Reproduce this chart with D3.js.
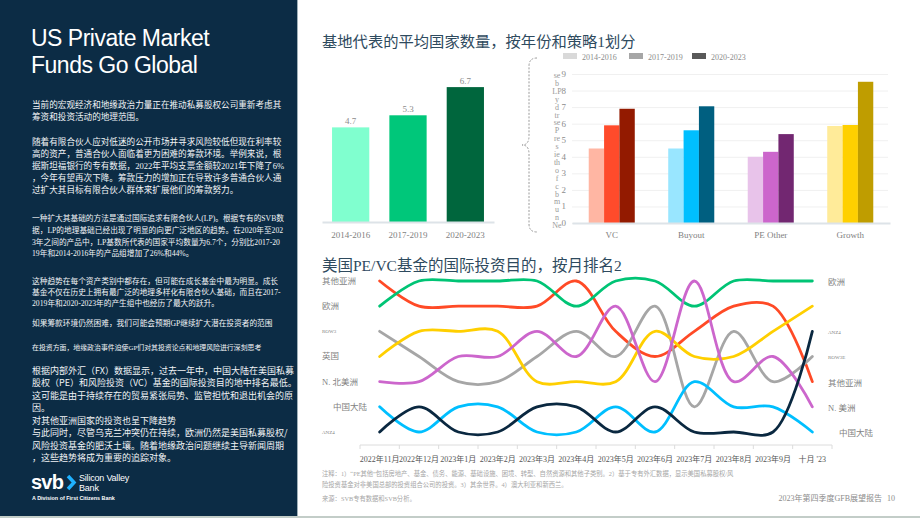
<!DOCTYPE html>
<html lang="zh">
<head>
<meta charset="utf-8">
<title>US Private Market Funds Go Global</title>
<script src="https://cdn.jsdelivr.net/npm/d3@7/dist/d3.min.js"></script>
<style>
    body { margin: 0; background: #fff; }
    svg text { font-family: "Liberation Serif", "Noto Sans CJK SC", serif; }
    .cjk { font-family: "Noto Sans CJK SC", sans-serif !important; }
    .mixed { font-family: "Liberation Serif", "Noto Sans CJK SC", serif; }
    .sans { font-family: "Liberation Sans", Arial, sans-serif !important; }
</style>
</head>
<body>
<script>
// ---- data ----
var periods = ["2014-2016", "2017-2019", "2020-2023"];
var avgCountries = [4.7, 5.3, 6.7];
var periodGreens = ["#80ffcf", "#00c77a", "#00663d"];

var strategies = ["VC", "Buyout", "PE Other", "Growth"];
var vcValues = [4.5, 5.9, 6.9];
var buyoutValues = [4.5, 5.6, 7.05];
var peOtherValues = [4.0, 4.3, 5.37];
var growthValues = [5.86, 5.92, 8.53];
var strategyColors = [
    ["#ffb6a3", "#ff4b2b", "#931a00"],
    ["#99e6ff", "#00bfff", "#005f80"],
    ["#e8c3ea", "#cc66cc", "#722771"],
    ["#ffeb99", "#ffd000", "#bf9d00"]
];
var legendGrays = ["#d9d9d9", "#a6a6a6", "#595959"];
var yTicks = [0, 1, 2, 3, 4, 5, 6, 7, 8, 9];

var months = ["2022年11月", "2022年12月", "2023年1月", "2023年2月", "2023年3月", "2023年4月",
    "2023年5月", "2023年6月", "2023年7月", "2023年8月", "2023年9月", "十月 '23"];
var regions = ["其他亚洲", "欧洲", "ROW3", "英国", "N. 北美洲", "中国大陆", "ANZ4"];
var rightLabels = ["其他亚洲", "欧洲", "ROW3E", "", "N.  美洲", "中国大陆", "ANZ4"];
var otherAsiaRank = [1, 2, 2, 2, 2, 1, 3, 4, 3, 2, 2, 5];
var europeRank    = [2, 1, 1, 1, 1, 2, 1, 1, 2, 1, 1, 1];
var row3Rank      = [3, 4, 5, 5, 4, 3, 4, 2, 6, 3, 5, 4];
var ukRank        = [4, 3, 3, 3, 5, 5, 5, 3, 4, 4, 3, 2];
var northAmRank   = [5, 5, 4, 4, 3, 4, 2, 5, 1, 5, 4, 6];
var chinaRank     = [6, 7, 6, 6, 7, 7, 6, 7, 5, 6, 6, 7];
var anzRank       = [7, 6, 7, 7, 6, 6, 7, 6, 7, 7, 7, 3];
var regionColors = ["#ff4a26", "#00c475", "#a6a6a6", "#ffcf00", "#cc66cc", "#00bfff", "#0a2840"];
var ranks = [1, 2, 3, 4, 5, 6, 7];

var svg = d3.select("body").append("svg")
    .attr("width", 920)
    .attr("height", 518);

// ---- left panel ----
svg.append("rect").attr("x", 0).attr("y", 0).attr("width", 297).attr("height", 518).attr("fill", "#0c2c45");
svg.append("line").attr("x1", 297.5).attr("x2", 297.5).attr("y1", 0).attr("y2", 518)
    .attr("stroke", "#9fb0b8").attr("stroke-width", 1);

svg.append("text").attr("class", "sans").attr("x", 31).attr("y", 46)
    .attr("fill", "#fff").style("font-size", "23px").style("letter-spacing", "-0.5px")
    .text("US Private Market");
svg.append("text").attr("class", "sans").attr("x", 31).attr("y", 73)
    .attr("fill", "#fff").style("font-size", "23px").style("letter-spacing", "-0.5px")
    .text("Funds Go Global");

var leftBlocks = [
    {size: 8.6, cls: "mixed", lines: [
        [108, "当前的宏观经济和地缘政治力量正在推动私募股权公司重新考虑其"],
        [120, "筹资和投资活动的地理范围。"],
        [145, "随着有限合伙人应对低迷的公开市场并寻求风险较低但现在利率较"],
        [157, "高的资产，普通合伙人面临着更为困难的筹款环境。举例来说，根"],
        [169, "据斯坦福银行的专有数据，2022年平均支票金额较2021年下降了6%"],
        [181, "，今年有望再次下降。筹款压力的增加正在导致许多普通合伙人通"],
        [193, "过扩大其目标有限合伙人群体来扩展他们的筹款努力。"]
    ]},
    {size: 7.7, cls: "mixed", lines: [
        [221, "一种扩大其基础的方法是通过国际追求有限合伙人(LP)。根据专有的SVB数"],
        [233, "据，LP的地理基础已经出现了明显的向更广泛地区的趋势。在2020年至202"],
        [245, "3年之间的产品中，LP基数所代表的国家平均数量为6.7个，分别比2017-20"],
        [256, "19年和2014-2016年的产品组增加了26%和44%。"],
        [284, "这种趋势在每个资产类别中都存在，但可能在成长基金中最为明显。成长"],
        [295, "基金不仅在历史上拥有最广泛的地理多样化有限合伙人基础，而且在2017-"],
        [306, "2019年和2020-2023年的产生组中也经历了最大的跃升。"],
        [326, "如果筹款环境仍然困难，我们可能会预期GP继续扩大潜在投资者的范围"]
    ]},
    {size: 6.9, cls: "mixed", lines: [
        [350, "在投资方面，地缘政治事件迫使GP们对其投资论点和地理风险进行深刻思考"]
    ]},
    {size: 9, cls: "cjk", lines: [
        [374, "根据内部外汇（FX）数据显示，过去一年中，中国大陆在美国私募"],
        [386, "股权（PE）和风险投资（VC）基金的国际投资目的地中排名最低。"],
        [399, "这可能是由于持续存在的贸易紧张局势、监管担忧和退出机会的原"],
        [411, "因。"],
        [424, "对其他亚洲国家的投资也呈下降趋势"],
        [436, "与此同时，尽管乌克兰冲突仍在持续，欧洲仍然是美国私募股权/"],
        [449, "风险投资基金的肥沃土壤。随着地缘政治问题继续主导新闻周期"],
        [461, "，这些趋势将成为重要的追踪对象。"]
    ]}
];
leftBlocks.forEach(function (b) {
    svg.append("g").selectAll("text")
        .data(b.lines).enter().append("text")
        .attr("class", b.cls)
        .attr("x", 32)
        .attr("y", function (d) { return d[0]; })
        .attr("fill", "#f2f4f6")
        .style("font-size", b.size + "px")
        .text(function (d) { return d[1]; });
});

// logo
svg.append("text").attr("class", "sans").attr("x", 31).attr("y", 489)
    .attr("fill", "#fff").style("font-size", "20px").style("font-weight", "bold")
    .style("letter-spacing", "-0.8px").text("svb");
svg.append("path").attr("d", "M68,476 L74,482.5 L68,489")
    .attr("fill", "none").attr("stroke", "#1fb1ff").attr("stroke-width", 3.5);
svg.append("text").attr("class", "sans").attr("x", 79).attr("y", 480.5)
    .attr("fill", "#fff").style("font-size", "9px").style("letter-spacing", "-0.2px").text("Silicon Valley");
svg.append("text").attr("class", "sans").attr("x", 79).attr("y", 491)
    .attr("fill", "#fff").style("font-size", "9px").style("letter-spacing", "-0.2px").text("Bank");
svg.append("text").attr("class", "sans").attr("x", 32).attr("y", 500)
    .attr("fill", "#fff").style("font-size", "5.4px").style("font-weight", "bold")
    .text("A Division of First Citizens Bank");

svg.append("rect").attr("x", 0).attr("y", 516).attr("width", 920).attr("height", 2).attr("fill", "#c3cdc8");

// ---- chart 1: average countries by vintage ----
svg.append("text").attr("class", "mixed").attr("x", 322).attr("y", 47)
    .attr("fill", "#2e4a5e").style("font-size", "15.3px")
    .text("基地代表的平均国家数量，按年份和策略1划分");

var x1 = d3.scaleBand().domain(periods).range([322, 494]).paddingInner(0.35).paddingOuter(0.175);
var y1 = d3.scaleLinear().domain([0, 7.5]).range([222, 71]);

svg.append("g").selectAll("rect")
    .data(periods).enter().append("rect")
    .attr("x", function (d) { return x1(d); })
    .attr("width", x1.bandwidth())
    .attr("y", function (d, i) { return y1(avgCountries[i]); })
    .attr("height", function (d, i) { return y1(0) - y1(avgCountries[i]); })
    .attr("fill", function (d, i) { return periodGreens[i]; });

svg.append("g").selectAll("text")
    .data(periods).enter().append("text")
    .attr("x", function (d) { return x1(d) + x1.bandwidth() / 2; })
    .attr("y", function (d, i) { return y1(avgCountries[i]) - 3; })
    .attr("text-anchor", "middle")
    .attr("fill", "#8c8c8c")
    .style("font-size", "9px")
    .text(function (d, i) { return avgCountries[i].toFixed(1); });

var ax1 = svg.append("g").attr("transform", "translate(0,222)")
    .call(d3.axisBottom(x1).tickSize(0).tickPadding(10));
ax1.select(".domain").attr("stroke", "#dde3e8").attr("stroke-width", 2);
ax1.selectAll("text").attr("fill", "#7f7f7f").style("font-size", "9px")
    .style("font-family", "Liberation Serif, serif");

// brace
svg.append("path")
    .attr("d", "M537,58 Q529,58 529,66 L529,136 Q529,145 522,145 Q529,145 529,154 L529,224 Q529,232 537,232")
    .attr("fill", "none").attr("stroke", "#9a9a9a").attr("stroke-width", 1).attr("stroke-dasharray", "2,1.5");

// ---- chart 2: by strategy ----
var x2 = d3.scaleBand().domain(strategies).range([572, 890]);
var x2in = d3.scaleBand().domain(periods).range([0, x2.bandwidth()]).paddingOuter(1.09);
var y2 = d3.scaleLinear().domain([0, 9]).range([223, 74]);
var strategyTable = strategies.map(function (s, i) {
    return {name: s, values: [vcValues, buyoutValues, peOtherValues, growthValues][i], colors: strategyColors[i]};
});

var grid = svg.append("g").attr("transform", "translate(572,0)")
    .call(d3.axisLeft(y2).tickValues(yTicks).tickSize(-316).tickFormat(""));
grid.select(".domain").remove();
grid.selectAll("line").attr("stroke", "#f0f0f0");

svg.append("g").selectAll("text")
    .data(yTicks).enter().append("text")
    .attr("x", 566).attr("y", function (d) { return y2(d) + 3; })
    .attr("text-anchor", "end").attr("fill", "#8c8c8c").style("font-size", "9px")
    .text(function (d) { return d; });

// squeezed vertical axis title
var axisTitleBits = ["se", "b", "LP", "y", "d", "tr", "se", "P", "re", "s", "ie", "th", "o", "f", "c", "b", "m", "u", "n", "Ne"];
svg.append("g").selectAll("text")
    .data(axisTitleBits).enter().append("text")
    .attr("x", 557).attr("y", function (d, i) { return 78 + i * 7.9; })
    .attr("text-anchor", "middle").attr("fill", "#9a9a9a").style("font-size", "8px")
    .text(function (d) { return d; });

var groups = svg.append("g").selectAll("g")
    .data(strategyTable).enter().append("g")
    .attr("transform", function (d) { return "translate(" + x2(d.name) + ",0)"; });
groups.selectAll("rect")
    .data(function (d) { return d.values.map(function (v, j) { return {p: periods[j], v: v, c: d.colors[j]}; }); })
    .enter().append("rect")
    .attr("x", function (d) { return x2in(d.p); })
    .attr("width", x2in.bandwidth())
    .attr("y", function (d) { return y2(d.v); })
    .attr("height", function (d) { return y2(0) - y2(d.v); })
    .attr("fill", function (d) { return d.c; });

var ax2 = svg.append("g").attr("transform", "translate(0,223)")
    .call(d3.axisBottom(x2).tickSize(0).tickPadding(9));
ax2.select(".domain").attr("stroke", "#dde3e8").attr("stroke-width", 2);
ax2.selectAll("text").attr("fill", "#7f7f7f").style("font-size", "9px")
    .style("font-family", "Liberation Serif, serif");

var legend = svg.append("g").selectAll("g")
    .data(periods).enter().append("g")
    .attr("transform", function (d, i) { return "translate(" + [563, 629, 692][i] + ",53)"; });
legend.append("rect").attr("width", 14).attr("height", 6)
    .attr("fill", function (d, i) { return legendGrays[i]; });
legend.append("text").attr("x", 19).attr("y", 7).attr("fill", "#8c8c8c")
    .style("font-size", "8px").text(function (d) { return d; });

// ---- chart 3: bump chart ----
svg.append("text").attr("class", "mixed").attr("x", 322).attr("y", 271)
    .attr("fill", "#2e4a5e").style("font-size", "15.5px")
    .text("美国PE/VC基金的国际投资目的，按月排名2");

var x3 = d3.scaleBand().domain(months).range([360, 832]);
var y3 = d3.scalePoint().domain(ranks).range([281, 432]);
var rankSeries = [otherAsiaRank, europeRank, row3Rank, ukRank, northAmRank, chinaRank, anzRank];

var line3 = d3.line()
    .x(function (d, i) { return x3(months[i]) + x3.bandwidth() / 2; })
    .y(function (d) { return y3(d); })
    .curve(d3.curveCatmullRom.alpha(0.5));

svg.append("g").selectAll("path")
    .data(rankSeries).enter().append("path")
    .attr("d", line3)
    .attr("fill", "none")
    .attr("stroke", function (d, i) { return regionColors[i]; })
    .attr("stroke-width", 2.8)
    .attr("stroke-linecap", "round");

var ax3 = svg.append("g").attr("transform", "translate(0,445)")
    .call(d3.axisBottom(x3).tickSize(0).tickPadding(11));
ax3.select(".domain").attr("stroke", "#dcdcdc").attr("d", "M360,0H832");
ax3.selectAll("text").attr("fill", "#555").style("font-size", "8px");
svg.append("g").selectAll("line")
    .data(months.concat([""])).enter().append("line")
    .attr("x1", function (d, i) { return 360 + i * x3.step(); })
    .attr("x2", function (d, i) { return 360 + i * x3.step(); })
    .attr("y1", 445).attr("y2", 449).attr("stroke", "#dcdcdc");

var labelSizes = [8.5, 8.5, 5, 8.5, 8.5, 8.5, 5];
var labelIndent = [0, 0, 0, 0, 0, 11, 0];
svg.append("g").selectAll("text")
    .data(regions).enter().append("text")
    .attr("x", function (d, i) { return 322 + labelIndent[i]; })
    .attr("y", function (d, i) { return y3(rankSeries[i][0]) + labelSizes[i] * 0.35; })
    .attr("fill", "#7f7f7f")
    .style("font-size", function (d, i) { return labelSizes[i] + "px"; })
    .text(function (d) { return d; });

svg.append("g").selectAll("text")
    .data(rightLabels).enter().append("text")
    .attr("x", function (d, i) { return 828 + labelIndent[i]; })
    .attr("y", function (d, i) { return y3(rankSeries[i][11]) + labelSizes[i] * 0.35 + 1; })
    .attr("fill", "#7f7f7f")
    .style("font-size", function (d, i) { return labelSizes[i] + "px"; })
    .text(function (d) { return d; });

// ---- notes ----
var notes = [
    [322, 476, "注释：1）“PE其他”包括房地产、基金、债务、能源、基础设施、困境、转型、自然资源和其他子类别。2）基于专有外汇数据，显示美国私募股权/风"],
    [322, 487, "险投资基金对非美国总部的投资组合公司的投资。3）其余世界。4）澳大利亚和新西兰。"],
    [322, 501, "来源：SVB专有数据和SVB分析。"]
];
svg.append("g").selectAll("text")
    .data(notes).enter().append("text")
    .attr("x", function (d) { return d[0]; })
    .attr("y", function (d) { return d[1]; })
    .attr("fill", "#a6a6a6").style("font-size", "6.3px")
    .text(function (d) { return d[2]; });
svg.append("text").attr("x", 882).attr("y", 501).attr("text-anchor", "end")
    .attr("fill", "#8c8c8c").style("font-size", "8px").text("2023年第四季度GFB展望报告");
svg.append("text").attr("x", 895).attr("y", 501).attr("text-anchor", "end")
    .attr("fill", "#8c8c8c").style("font-size", "8px").text("10");
</script>
</body>
</html>
